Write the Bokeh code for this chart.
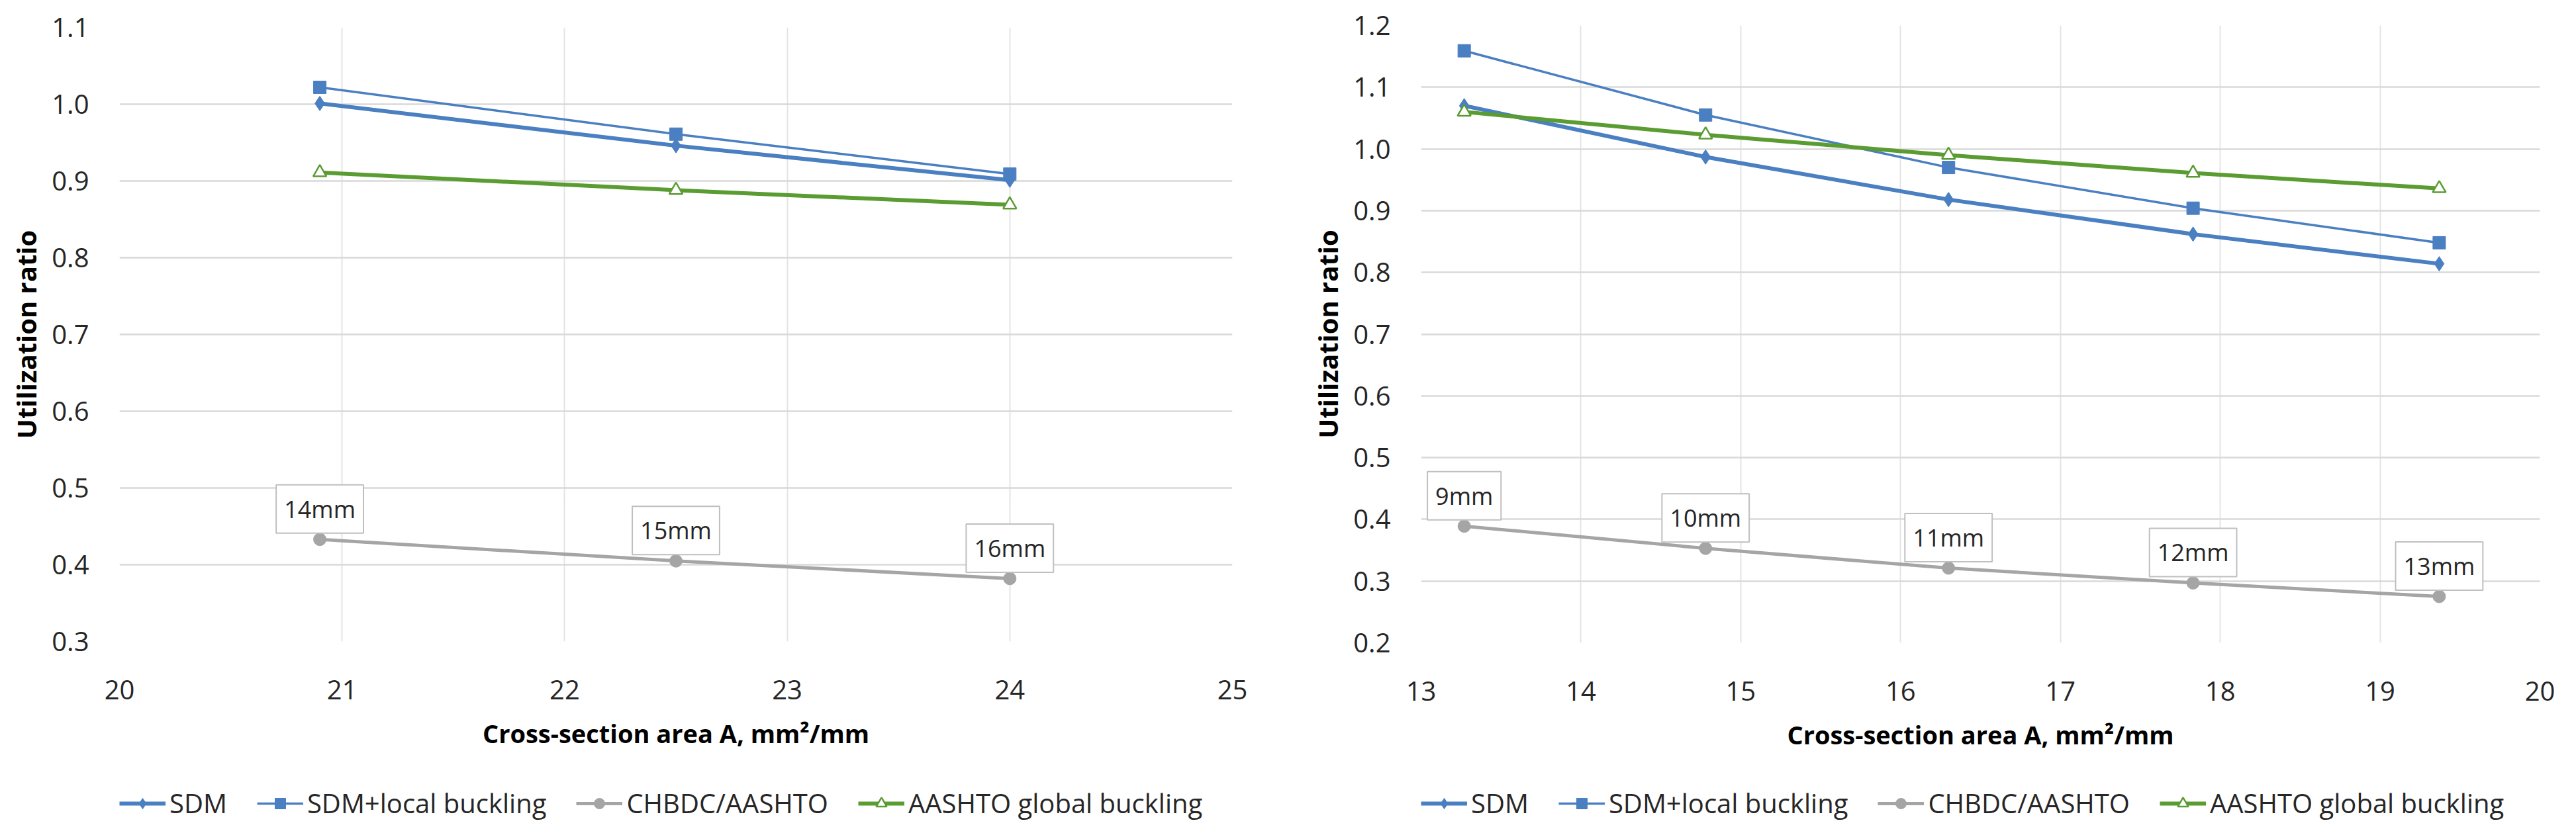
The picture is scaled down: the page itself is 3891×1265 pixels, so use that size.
from bokeh.plotting import figure
from bokeh.layouts import row, column
from bokeh.models import FixedTicker, PrintfTickFormatter, Legend, LegendItem, Label, Range1d
from bokeh.embed import file_html
from bokeh.resources import INLINE

# left panel: plate thickness 14-16 mm
area_a = [20.9, 22.5, 24.0]
thick_a = ["14mm", "15mm", "16mm"]
sdm_a = [1.001, 0.946, 0.901]
sdm_local_a = [1.022, 0.961, 0.909]
chbdc_a = [0.433, 0.405, 0.382]
global_a = [0.911, 0.888, 0.869]

# right panel: plate thickness 9-13 mm
area_b = [13.27, 14.78, 16.30, 17.83, 19.37]
thick_b = ["9mm", "10mm", "11mm", "12mm", "13mm"]
sdm_b = [1.070, 0.987, 0.918, 0.862, 0.814]
sdm_local_b = [1.159, 1.055, 0.970, 0.904, 0.848]
chbdc_b = [0.389, 0.353, 0.321, 0.297, 0.275]
global_b = [1.060, 1.023, 0.990, 0.961, 0.936]

names = ["SDM", "SDM+local buckling", "CHBDC/AASHTO", "AASHTO global buckling"]

BLUE = "#4A7FC1"
GREY = "#A5A5A5"
GREEN = "#5A9C32"
FONT = "Open Sans"
TXT = "#262626"

# line / marker styles per series, same order as names
STYLES = [
    dict(color=BLUE, lw=6, marker="diamond", size=22, fill=BLUE),
    dict(color=BLUE, lw=3.5, marker="square", size=19, fill=BLUE),
    dict(color=GREY, lw=5, marker="circle", size=19, fill=GREY),
    dict(color=GREEN, lw=6, marker="triangle", size=20, fill="white"),
]


def add_series(p, xs, ys, st):
    ln = p.line(xs, ys, line_color=st["color"], line_width=st["lw"])
    mk = p.scatter(xs, ys, marker=st["marker"], size=st["size"], line_color=st["color"],
                   fill_color=st["fill"], line_width=2.5 if st["fill"] == "white" else 1)
    return [ln, mk]


def make_chart(xs, series, labels, xr, yr, xticks, yticks, width, borders):
    left, right, top, bottom = borders
    p = figure(width=width, height=1170, x_range=Range1d(*xr), y_range=Range1d(*yr),
               output_backend="svg", toolbar_location=None,
               min_border_left=left, min_border_right=right,
               min_border_top=top, min_border_bottom=bottom)
    p.outline_line_color = None

    for ax in (p.xaxis, p.yaxis):
        ax.axis_line_color = None
        ax.major_tick_line_color = None
        ax.minor_tick_line_color = None
        ax.major_label_text_font = FONT
        ax.major_label_text_font_size = "40px"
        ax.major_label_text_color = TXT
        ax.axis_label_text_font = FONT
        ax.axis_label_text_font_style = "bold"
        ax.axis_label_text_color = "black"

    p.xaxis.ticker = FixedTicker(ticks=xticks)
    p.yaxis.ticker = FixedTicker(ticks=yticks)
    p.xaxis.formatter = PrintfTickFormatter(format="%d")
    p.yaxis.formatter = PrintfTickFormatter(format="%.1f")
    p.xaxis.axis_label = "Cross-section area A, mm\u00b2/mm"
    p.yaxis.axis_label = "Utilization ratio"
    p.xaxis.axis_label_text_font_size = "38px"
    p.yaxis.axis_label_text_font_size = "40px"
    p.xaxis.major_label_standoff = 52
    p.xaxis.axis_label_standoff = 22
    p.yaxis.major_label_standoff = 40
    p.yaxis.axis_label_standoff = 8

    p.ygrid.grid_line_color = "#D9D9D9"
    p.ygrid.grid_line_width = 2.5
    p.xgrid.grid_line_color = "#E4E4E4"
    p.xgrid.grid_line_width = 2

    for ys, st in zip(series, STYLES):
        add_series(p, xs, ys, st)

    chbdc = series[2]
    for x, y, t in zip(xs, chbdc, labels):
        p.add_layout(Label(x=x, y=y, text=t, y_offset=46, text_align="center",
                           text_baseline="middle", text_font=FONT, text_font_size="36px",
                           text_color=TXT, background_fill_color="white",
                           border_line_color="#BFBFBF", border_line_width=2,
                           padding=12))
    return p


def make_legend(width, xs, series):
    # strip below each chart that only holds its legend; the series lie outside its ranges
    p = figure(width=width, height=79, x_range=Range1d(0, 1), y_range=Range1d(0, 1),
               output_backend="svg", toolbar_location=None,
               x_axis_location=None, y_axis_location=None,
               min_border_left=0, min_border_right=0,
               min_border_top=0, min_border_bottom=0)
    p.outline_line_color = None
    p.grid.visible = False
    items = []
    for name, ys, st in zip(names, series, STYLES):
        items.append(LegendItem(label=name, renderers=add_series(p, xs, ys, st)))
    legend = Legend(items=items, orientation="horizontal", location=(0, 8),
                    glyph_width=70, glyph_height=40, label_standoff=6, spacing=45,
                    padding=0, margin=0, border_line_color=None,
                    background_fill_alpha=0, label_text_font=FONT,
                    label_text_font_size="40px", label_text_color=TXT)
    p.add_layout(legend, "center")
    return p


series_a = (sdm_a, sdm_local_a, chbdc_a, global_a)
series_b = (sdm_b, sdm_local_b, chbdc_b, global_b)

left = make_chart(area_a, series_a, thick_a,
                  (20, 25), (0.3, 1.1), [20, 21, 22, 23, 24, 25],
                  [0.3, 0.4, 0.5, 0.6, 0.7, 0.8, 0.9, 1.0, 1.1],
                  1942, (180, 81, 41, 201))
right = make_chart(area_b, series_b, thick_b,
                   (13, 20), (0.2, 1.2), [13, 14, 15, 16, 17, 18, 19, 20],
                   [0.2, 0.3, 0.4, 0.5, 0.6, 0.7, 0.8, 0.9, 1.0, 1.1, 1.2],
                   1933, (204, 39, 38, 199))

p = row(column(left, make_legend(1942, area_a, series_a)),
        column(right, make_legend(1933, area_b, series_b)))
open("out.html", "w").write(file_html(p, INLINE))
